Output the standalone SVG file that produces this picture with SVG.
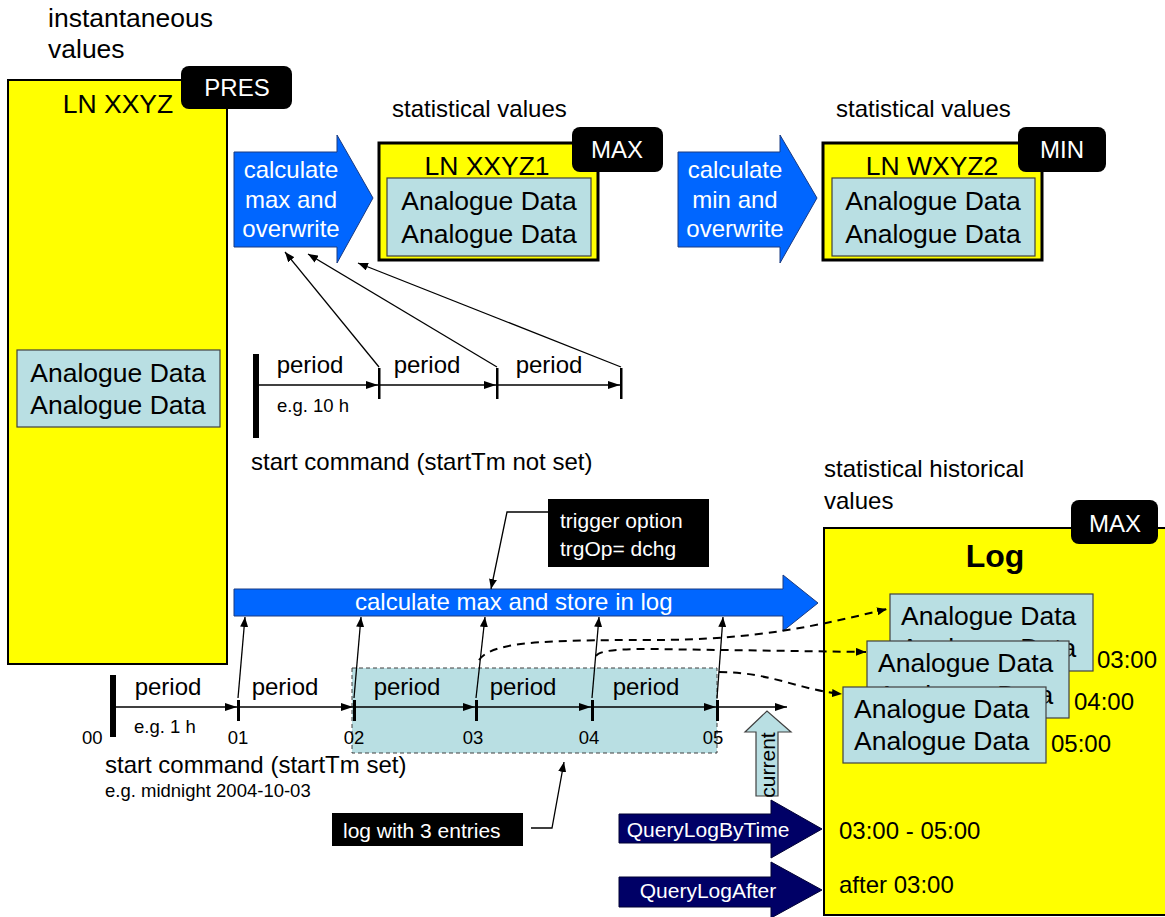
<svg xmlns="http://www.w3.org/2000/svg" width="1165" height="917" viewBox="0 0 1165 917">
<defs>
<style>
text{font-family:"Liberation Sans",Arial,Helvetica,sans-serif;fill:#000}
.t27{font-size:26.5px}
.t24{font-size:24px}
.t21{font-size:21px}
.t18{font-size:18.5px}
.w{fill:#fff}
.mid{text-anchor:middle}
.yel{fill:#ffff00;stroke:#000}
.cy{fill:#b9dfe3;stroke:#404040;stroke-width:1.2}
.badge{fill:#000}
.blue{fill:#0066ff;stroke:#1a3a80;stroke-width:1}
.navy{fill:#000066;stroke:#000033;stroke-width:1}
.ln{stroke:#000;stroke-width:1.3;fill:none}
.tl{stroke:#000;stroke-width:1.5;fill:none}
.dash{stroke:#000;stroke-width:2;fill:none;stroke-dasharray:8 6}
</style>
<marker id="ah" viewBox="0 0 12 8" refX="12" refY="4" markerWidth="12" markerHeight="8" markerUnits="userSpaceOnUse" orient="auto">
<path d="M0,0 L12,4 L0,8 Z" fill="#000"/>
</marker>
<marker id="ahs" viewBox="0 0 10 8" refX="10" refY="4" markerWidth="10" markerHeight="8" markerUnits="userSpaceOnUse" orient="auto">
<path d="M0,0 L10,4 L0,8 Z" fill="#000"/>
</marker>
</defs>
<rect width="1165" height="917" fill="#fff"/>

<!-- labels -->
<text class="t27" x="48" y="27">instantaneous</text>
<text class="t27" x="48" y="58">values</text>
<text class="t24" x="392" y="117">statistical values</text>
<text class="t24" x="836" y="117">statistical values</text>
<text class="t24" x="824" y="477">statistical historical</text>
<text class="t24" x="824" y="509">values</text>

<!-- LN XXYZ -->
<g id="ln-xxyz">
<rect class="yel" x="8" y="80" width="219" height="584" stroke-width="2"/>
<text class="t27 mid" x="118" y="113">LN XXYZ</text>
<rect class="cy" x="17" y="350" width="203" height="77"/>
<text class="t27 mid" x="118" y="382">Analogue Data</text>
<text class="t27 mid" x="118" y="414">Analogue Data</text>
<rect class="badge" x="181" y="66" width="111" height="43" rx="8"/>
<text class="t24 w mid" x="237" y="96">PRES</text>
</g>

<!-- arrow calc max -->
<g id="calc-max">
<polygon class="blue" points="234,152 337,152 337,135 373,198 337,263 337,247 234,247"/>
<text class="t24 w mid" x="291" y="178">calculate</text>
<text class="t24 w mid" x="291" y="208">max and</text>
<text class="t24 w mid" x="291" y="237">overwrite</text>
</g>

<!-- LN XXYZ1 -->
<g id="ln-xxyz1">
<rect class="yel" x="379" y="143" width="219" height="117" stroke-width="3"/>
<text class="t27 mid" x="487" y="175">LN XXYZ1</text>
<rect class="cy" x="387" y="178" width="204" height="78"/>
<text class="t27 mid" x="489" y="210">Analogue Data</text>
<text class="t27 mid" x="489" y="243">Analogue Data</text>
<rect class="badge" x="572" y="127" width="91" height="45" rx="8"/>
<text class="t24 w mid" x="617" y="158">MAX</text>
</g>

<!-- arrow calc min -->
<g id="calc-min">
<polygon class="blue" points="678,152 780,152 780,135 817,198 780,263 780,247 678,247"/>
<text class="t24 w mid" x="735" y="178">calculate</text>
<text class="t24 w mid" x="735" y="208">min and</text>
<text class="t24 w mid" x="735" y="237">overwrite</text>
</g>

<!-- LN WXYZ2 -->
<g id="ln-wxyz2">
<rect class="yel" x="823" y="143" width="219" height="117" stroke-width="3"/>
<text class="t27 mid" x="932" y="175">LN WXYZ2</text>
<rect class="cy" x="832" y="178" width="203" height="78"/>
<text class="t27 mid" x="933" y="210">Analogue Data</text>
<text class="t27 mid" x="933" y="243">Analogue Data</text>
<rect class="badge" x="1018" y="127" width="88" height="45" rx="8"/>
<text class="t24 w mid" x="1062" y="158">MIN</text>
</g>

<!-- top timeline -->
<g id="timeline-top">
<rect x="253" y="354" width="6" height="84" fill="#000"/>
<rect x="378" y="368" width="2.5" height="31" fill="#000"/>
<rect x="496" y="368" width="2.5" height="31" fill="#000"/>
<rect x="620" y="368" width="2.5" height="31" fill="#000"/>
<text class="t24 mid" x="310" y="373">period</text>
<text class="t24 mid" x="427" y="373">period</text>
<text class="t24 mid" x="549" y="373">period</text>
<text class="t18" x="277" y="412">e.g. 10 h</text>
<text class="t24" x="251" y="470">start command (startTm not set)</text>
</g>

<!-- cyan log range -->
<g id="log-range">
<rect x="352" y="668" width="365" height="85" fill="#b9dfe3" stroke="#404040" stroke-width="1" stroke-dasharray="4 3"/>
</g>

<!-- bottom timeline -->
<g id="timeline-bottom">
<rect x="110" y="675" width="6" height="62" fill="#000"/>
<rect x="237" y="700" width="3" height="21" fill="#000"/>
<rect x="353" y="700" width="3" height="21" fill="#000"/>
<rect x="475" y="700" width="3" height="21" fill="#000"/>
<rect x="591" y="700" width="3" height="21" fill="#000"/>
<rect x="716" y="700" width="3" height="21" fill="#000"/>
<text class="t24 mid" x="168" y="695">period</text>
<text class="t24 mid" x="285" y="695">period</text>
<text class="t24 mid" x="407" y="695">period</text>
<text class="t24 mid" x="523" y="695">period</text>
<text class="t24 mid" x="646" y="695">period</text>
<text class="t18" x="134" y="733">e.g. 1 h</text>
<text class="t18" x="82" y="744">00</text>
<text class="t18 mid" x="238" y="744">01</text>
<text class="t18 mid" x="354" y="744">02</text>
<text class="t18 mid" x="473" y="744">03</text>
<text class="t18 mid" x="589" y="744">04</text>
<text class="t18 mid" x="713" y="744">05</text>
<text class="t24" x="105" y="773">start command (startTm set)</text>
<text class="t18" x="105" y="797">e.g. midnight 2004-10-03</text>
</g>

<!-- big arrow -->
<g id="calc-store">
<polygon class="blue" points="234,589 783,589 783,575 818,603 783,631 783,616 234,616"/>
<text class="t24 w" x="355" y="610">calculate max and store in log</text>
</g>

<!-- trigger callout -->
<g id="trigger">
<rect class="badge" x="548" y="499" width="161" height="68"/>
<text class="t21 w" x="560" y="528">trigger option</text>
<text class="t21 w" x="560" y="556">trgOp= dchg</text>
</g>

<!-- log with 3 entries callout -->
<g id="log3">
<rect class="badge" x="332" y="813" width="191" height="33"/>
<text class="t21 w" x="343" y="838">log with 3 entries</text>
</g>

<!-- current -->
<g id="current">
<polygon points="756,796 778,796 778,732 791,732 767,711 745,732 756,732" fill="#b9dfe3" stroke="#404040" stroke-width="1.2"/>
<text class="t21" transform="translate(775,765) rotate(-90)" text-anchor="middle">current</text>
</g>

<!-- Log -->
<g id="log">
<rect class="yel" x="824" y="528" width="350" height="387" stroke-width="2"/>
<rect class="badge" x="1071" y="500" width="87" height="44" rx="8"/>
<text class="t24 w mid" x="1115" y="532">MAX</text>
<text class="mid" x="995" y="567" font-size="32" font-weight="bold">Log</text>
<rect class="cy" x="890" y="594" width="203" height="77"/>
<text class="t27" x="901" y="625">Analogue Data</text>
<text class="t27" x="901" y="657">Analogue Data</text>
<rect class="cy" x="867" y="641" width="202" height="77"/>
<text class="t27" x="878" y="672">Analogue Data</text>
<text class="t27" x="878" y="704">Analogue Data</text>
<rect class="cy" x="843" y="687" width="203" height="76"/>
<text class="t27" x="854" y="718">Analogue Data</text>
<text class="t27" x="854" y="750">Analogue Data</text>
<text class="t24" x="1097" y="668">03:00</text>
<text class="t24" x="1074" y="710">04:00</text>
<text class="t24" x="1051" y="752">05:00</text>
<text class="t24" x="839" y="839">03:00 - 05:00</text>
<text class="t24" x="839" y="893">after 03:00</text>
</g>

<!-- query arrows -->
<g id="query-by-time">
<polygon class="navy" points="619,814 771,814 771,800 822,829 771,858 771,843 619,843"/>
<text class="t21 w mid" x="708" y="837">QueryLogByTime</text>
</g>
<g id="query-after">
<polygon class="navy" points="619,877 771,877 771,862 822,890 771,918 771,907 619,907"/>
<text class="t21 w mid" x="708" y="898">QueryLogAfter</text>
</g>

<!-- connectors -->
<g id="connectors">
<line class="tl" x1="259" y1="385" x2="378" y2="385" marker-end="url(#ah)"/>
<line class="tl" x1="380" y1="385" x2="496" y2="385" marker-end="url(#ah)"/>
<line class="tl" x1="498" y1="385" x2="620" y2="385" marker-end="url(#ah)"/>
<line class="ln" x1="379" y1="367" x2="285" y2="252" marker-end="url(#ahs)"/>
<line class="ln" x1="497" y1="367" x2="308" y2="254" marker-end="url(#ahs)"/>
<line class="ln" x1="621" y1="367" x2="358" y2="263" marker-end="url(#ahs)"/>

<line class="tl" x1="116" y1="707" x2="237" y2="707" marker-end="url(#ah)"/>
<line class="tl" x1="240" y1="707" x2="353" y2="707" marker-end="url(#ah)"/>
<line class="tl" x1="356" y1="707" x2="475" y2="707" marker-end="url(#ah)"/>
<line class="tl" x1="478" y1="707" x2="591" y2="707" marker-end="url(#ah)"/>
<line class="tl" x1="594" y1="707" x2="716" y2="707" marker-end="url(#ah)"/>
<line class="tl" x1="719" y1="707" x2="787" y2="707" marker-end="url(#ah)"/>

<line class="ln" x1="238" y1="698" x2="245" y2="617" marker-end="url(#ahs)"/>
<line class="ln" x1="354" y1="698" x2="361" y2="617" marker-end="url(#ahs)"/>
<line class="ln" x1="476" y1="698" x2="485" y2="617" marker-end="url(#ahs)"/>
<line class="ln" x1="592" y1="698" x2="599" y2="617" marker-end="url(#ahs)"/>
<line class="ln" x1="717" y1="698" x2="723" y2="617" marker-end="url(#ahs)"/>

<path class="dash" d="M479,660 C492,642 540,640 650,640 C760,640 820,625 887,609" marker-end="url(#ahs)"/>
<path class="dash" d="M596,656 C600,650 620,649 650,649 L866,652" marker-end="url(#ahs)"/>
<path class="dash" d="M719,672 C770,672 800,690 842,694" marker-end="url(#ahs)"/>

<polyline class="ln" points="548,512 507,512 491,589" marker-end="url(#ahs)"/>
<polyline class="ln" points="531,828 552,828 564,762" marker-end="url(#ahs)"/>
</g>
</svg>
